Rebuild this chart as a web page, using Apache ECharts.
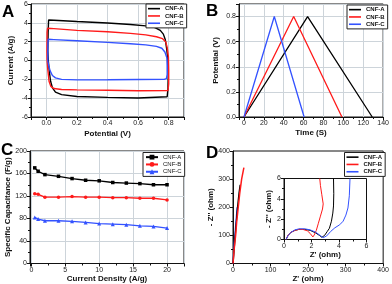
<!DOCTYPE html>
<html>
<head>
<meta charset="utf-8">
<script src="https://cdn.jsdelivr.net/npm/echarts@6/dist/echarts.min.js"></script>
<style>
html,body{margin:0;padding:0;background:#fff;}
#c{width:392px;height:284px;}
</style>
</head>
<body>
<div id="c"></div>
<script>
// ---------- Data ----------
const names = ['CNF-A', 'CNF-B', 'CNF-C'];
const colors = ['#000000', '#ff1a1a', '#3352ff'];

// Panel A: CV loops [potential (V), current (A/g)]
const cvA = [[0.010,1.0],[0.012,3.0],[0.015,4.30],[0.05,4.28],[0.2,4.14],[0.4,3.98],[0.55,3.82],[0.65,3.68],[0.71,3.5],[0.745,3.2],[0.765,2.8],[0.778,2.2],[0.787,1.2],[0.795,0.0],[0.797,-1.5],[0.795,-3.0],[0.79,-3.85],[0.78,-4.05],[0.6,-3.98],[0.4,-3.92],[0.2,-3.82],[0.1,-3.62],[0.06,-3.35],[0.04,-2.9],[0.028,-2.2],[0.02,-1.2],[0.013,0.0],[0.010,1.0]];
const cvB = [[0.004,1.0],[0.005,3.0],[0.008,3.42],[0.05,3.38],[0.2,3.2],[0.4,3.06],[0.55,2.88],[0.65,2.72],[0.72,2.52],[0.76,2.32],[0.78,2.0],[0.79,1.4],[0.798,0.4],[0.8,-1.0],[0.8,-2.5],[0.795,-3.2],[0.785,-3.3],[0.6,-3.22],[0.4,-3.16],[0.2,-3.12],[0.1,-3.08],[0.05,-2.98],[0.03,-2.75],[0.018,-2.2],[0.01,-1.0],[0.005,0.0],[0.004,1.0]];
const cvC = [[0.01,0.0],[0.01,1.5],[0.012,2.25],[0.05,2.22],[0.2,2.1],[0.4,1.92],[0.55,1.78],[0.65,1.66],[0.72,1.5],[0.755,1.3],[0.775,0.9],[0.788,0.3],[0.79,-0.5],[0.79,-1.5],[0.785,-1.92],[0.77,-2.0],[0.6,-2.02],[0.4,-2.05],[0.2,-2.06],[0.1,-2.0],[0.06,-1.85],[0.04,-1.6],[0.025,-1.1],[0.015,-0.5],[0.01,0.0]];

// Panel B: galvanostatic charge/discharge [time (s), potential (V)]
const gcdA = [[0,0],[64,0.8],[129,0]];
const gcdB = [[0,0],[50,0.8],[98.5,0]];
const gcdC = [[0,0],[30.5,0.8],[60.5,0]];

// Panel C: rate capability
const currentDensity = [0.5,1,2,4,6,8,10,12,14,16,18,20];
const capA = [170,164,158,155,151,148,147,144,143,142,140,140];
const capB = [124,123,118,118,119,118,118,117,117,116,116,113];
const capC = [82,79,76,76,75,73,71,70,69,67,66,63];

// Panel D: Nyquist (main) [Z', -Z'']
const eisMainA = [[0.2,0],[3,50],[6,100],[9,150],[12,200],[16,250],[19,280]];
const eisMainB = [[0.2,0],[3,50],[7,100],[10,150],[14,200],[18,250],[23,300],[29,341]];
const eisMainC = [[0.2,0],[2,50],[5,100],[8,150],[11,200]];
// Panel D inset
const eisInA = [[0.15,0],[0.3,0.4],[0.5,0.7],[0.8,0.9],[1.1,1.0],[1.5,1.0],[1.9,0.9],[2.3,0.65],[2.6,0.38],[2.75,0.22],[2.95,0.4],[3.15,0.8],[3.3,1.1],[3.45,1.8],[3.55,2.6],[3.6,3.3],[3.62,4.5],[3.6,6]];
const eisInB = [[0.15,0],[0.3,0.45],[0.5,0.7],[0.8,0.9],[1.1,1.0],[1.4,0.98],[1.7,0.85],[1.9,0.6],[2.1,0.25],[2.2,0.45],[2.35,0.9],[2.5,1.6],[2.65,2.3],[2.8,3.0],[2.85,3.5],[2.75,4.4],[2.65,5.3],[2.6,6]];
const eisInC = [[0.15,0],[0.3,0.4],[0.5,0.7],[0.8,0.95],[1.1,1.05],[1.5,1.05],[1.9,0.95],[2.3,0.72],[2.65,0.38],[2.85,0.18],[3.1,0.35],[3.4,0.8],[3.7,1.15],[4.05,1.45],[4.3,1.8],[4.5,2.4],[4.65,3.1],[4.75,4.3],[4.8,6]];

// ---------- Styles ----------
const FONT = 'Liberation Sans';
const gridLine = {show:true, lineStyle:{color:'#cdd4da', width:1}};
function axis(gi, o) {
  return Object.assign({
    type:'value', gridIndex:gi,
    axisLine:{show:true, onZero:false, lineStyle:{color:'#111', width:1}},
    axisTick:{show:true, inside:false, length:3, lineStyle:{color:'#111'}},
    minorTick:{show:true, splitNumber:2, length:2, lineStyle:{color:'#111'}},
    axisLabel:{fontSize:7, color:'#222', margin:3, fontFamily:FONT},
    splitLine:gridLine,
    nameLocation:'middle',
    nameTextStyle:{fontSize:8, fontWeight:'bold', color:'#111', fontFamily:FONT}
  }, o);
}
function legend(prefix, left, top, bold, lineIcon) {
  const l = {
    data: names.map(n => prefix + '|' + n),
    formatter: n => n.split('|')[1],
    orient:'vertical', left:left, top:top,
    itemGap:0, itemWidth:12, itemHeight: lineIcon ? 1.6 : 6, itemTextGap:2,
    padding:[1,3,1,2], borderColor:'#222', borderWidth:1, backgroundColor:'#fff',
    textStyle:{fontSize:6, lineHeight:7.3, fontWeight: bold ? 'bold' : 'normal', color:'#111', fontFamily:FONT},
    selectedMode:false
  };
  if (lineIcon) l.icon = 'rect';
  return l;
}
function lineSeries(prefix, i, data, xi, yi, extra) {
  return Object.assign({
    type:'line', name: prefix + '|' + names[i], xAxisIndex:xi, yAxisIndex:yi,
    data:data, showSymbol:false, symbol:'none', smooth:false,
    lineStyle:{color:colors[i], width:1.3}, itemStyle:{color:colors[i]}, animation:false
  }, extra || {});
}

const chart = echarts.init(document.getElementById('c'), null, {renderer:'canvas'});
const option = {
  animation:false,
  title: [
    {text:'A', left:2, top:4, padding:0, textStyle:{fontSize:17, fontWeight:'bold', color:'#000', fontFamily:FONT}},
    {text:'B', left:206, top:3, padding:0, textStyle:{fontSize:17, fontWeight:'bold', color:'#000', fontFamily:FONT}},
    {text:'C', left:1, top:142, padding:0, textStyle:{fontSize:17, fontWeight:'bold', color:'#000', fontFamily:FONT}},
    {text:'D', left:206, top:145, padding:0, textStyle:{fontSize:17, fontWeight:'bold', color:'#000', fontFamily:FONT}}
  ],
  grid: [
    {left:31, top:4, width:153, height:113, show:true, borderColor:'#111', borderWidth:1},
    {left:239, top:4, width:146.5, height:113, show:true, borderColor:'#111', borderWidth:1},
    {left:30, top:151, width:154, height:112.5, show:true, borderColor:'#111', borderWidth:1},
    {left:233, top:151, width:151, height:112.5, show:true, borderColor:'#111', borderWidth:1},
    {left:284, top:178.5, width:82.5, height:61, show:true, borderColor:'#111', borderWidth:1, backgroundColor:'#fff', z:5}
  ],
  xAxis: [
    axis(0, {min:-0.1, max:0.9, splitNumber:5, name:'Potential (V)', nameGap:13,
      axisLabel:{fontSize:7, color:'#222', margin:3, fontFamily:FONT, showMinLabel:false, showMaxLabel:false, formatter:v=>v.toFixed(1)}}),
    axis(1, {min:-5, max:140, splitNumber:7, name:'Time (S)', nameGap:12,
      axisLabel:{fontSize:7, color:'#222', margin:3, fontFamily:FONT, showMinLabel:false, showMaxLabel:true}}),
    axis(2, {min:-0.2, max:22.5, splitNumber:5, name:'Current Density (A/g)', nameGap:10,
      axisLabel:{fontSize:7, color:'#222', margin:3, fontFamily:FONT, showMinLabel:false, showMaxLabel:false}}),
    axis(3, {min:0, max:400, interval:100, name:"Z' (ohm)", nameGap:10, splitLine:{show:false}}),
    axis(4, {min:0, max:6, interval:2, name:"Z' (ohm)", nameGap:9, splitLine:{show:false}, z:6})
  ],
  yAxis: [
    axis(0, {min:-6, max:6, interval:2, name:'Current (A/g)', nameGap:16}),
    axis(1, {min:0, max:0.9, interval:0.2, name:'Potential (V)', nameGap:19,
      axisLabel:{fontSize:7, color:'#222', margin:3, fontFamily:FONT, showMaxLabel:false, formatter:v=>v.toFixed(1)}}),
    axis(2, {min:0, max:200, interval:40, name:'Specific Capacitance (F/g)', nameGap:15}),
    axis(3, {min:0, max:400, interval:100, name:"- Z'' (ohm)", nameGap:17, splitLine:{show:false}}),
    axis(4, {min:0, max:6, interval:2, name:"- Z'' (ohm)", nameGap:6, splitLine:{show:false}, z:6})
  ],
  legend: [
    legend('a', 146, 4, true, true),
    legend('b', 347, 5, true, true),
    legend('c', 143, 152.5, false, false),
    legend('d', 344.5, 152.5, true, true)
  ],
  series: [
    lineSeries('a', 0, cvA, 0, 0, {lineStyle:{color:colors[0], width:1.4}}),
    lineSeries('a', 1, cvB, 0, 0, {lineStyle:{color:colors[1], width:1.4}}),
    lineSeries('a', 2, cvC, 0, 0, {lineStyle:{color:colors[2], width:1.4}}),
    lineSeries('b', 0, gcdA, 1, 1),
    lineSeries('b', 1, gcdB, 1, 1),
    lineSeries('b', 2, gcdC, 1, 1),
    lineSeries('c', 0, currentDensity.map((x,k)=>[x, capA[k]]), 2, 2, {showSymbol:true, symbol:'rect', symbolSize:3.5}),
    lineSeries('c', 1, currentDensity.map((x,k)=>[x, capB[k]]), 2, 2, {showSymbol:true, symbol:'circle', symbolSize:3.5}),
    lineSeries('c', 2, currentDensity.map((x,k)=>[x, capC[k]]), 2, 2, {showSymbol:true, symbol:'triangle', symbolSize:4}),
    lineSeries('d', 2, eisMainC, 3, 3, {z:2}),
    lineSeries('d', 0, eisMainA, 3, 3, {z:3}),
    lineSeries('d', 1, eisMainB, 3, 3, {z:4, lineStyle:{color:colors[1], width:1.5}}),
    lineSeries('d', 0, eisInA, 4, 4, {z:7, lineStyle:{color:colors[0], width:1}}),
    lineSeries('d', 1, eisInB, 4, 4, {z:7, lineStyle:{color:colors[1], width:1}}),
    lineSeries('d', 2, eisInC, 4, 4, {z:7, lineStyle:{color:colors[2], width:1}})
  ]
};
chart.setOption(option);
</script>
</body>
</html>
